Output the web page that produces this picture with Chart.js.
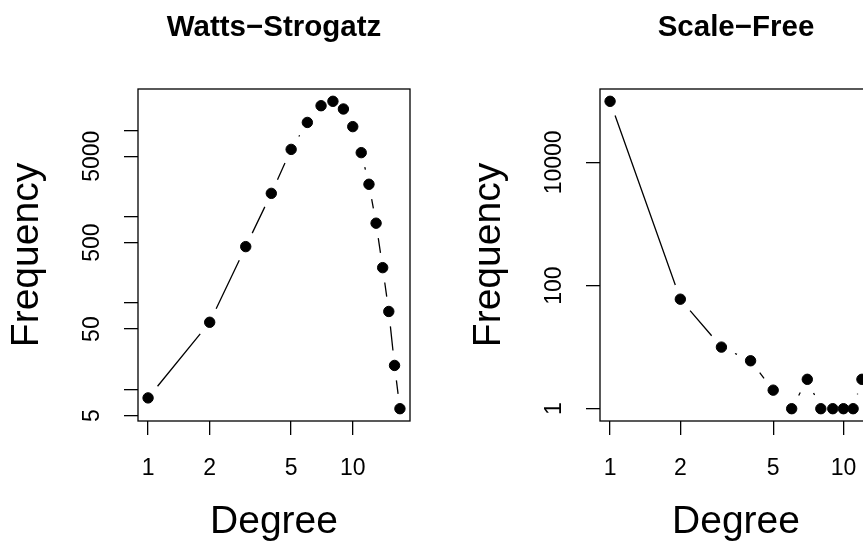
<!DOCTYPE html>
<html lang="en">
<head>
<meta charset="UTF-8" />
<title>Degree distributions</title>
<script src="https://cdn.jsdelivr.net/npm/chart.js"></script>
<style>
  html, body { margin: 0; padding: 0; background: #fff; }
  body { width: 863px; height: 543px; overflow: hidden; position: relative; }
  canvas { position: absolute; top: 0; }
</style>
</head>
<body>
<canvas id="ws" width="432" height="543" style="left:0"></canvas>
<canvas id="sf" width="432" height="543" style="left:462px"></canvas>
<script>
// Watts-Strogatz degree distribution
const wsDegree = [1, 2, 3, 4, 5, 6, 7, 8, 9, 10, 11, 12, 13, 14, 15, 16, 17];
const wsFreq = [8, 60, 450, 1860, 6000, 12300, 19200, 21600, 17600, 11000, 5500, 2370, 840, 257, 80, 19, 6];
const wsXTicks = [1, 2, 5, 10];
const wsYTicks = [5, 10, 50, 100, 500, 1000, 5000, 10000];
const wsYLabels = [5, 50, 500, 5000];

// Scale-free degree distribution
const sfDegree = [1, 2, 3, 4, 5, 6, 7, 8, 9, 10, 11, 12];
const sfFreq = [98000, 60, 10, 6, 2, 1, 3, 1, 1, 1, 1, 3];
const sfXTicks = [1, 2, 5, 10];
const sfYTicks = [1, 100, 10000];
const sfYLabels = [1, 100, 10000];

const FONT = "'Liberation Sans', Arial, Helvetica, sans-serif";
Chart.defaults.font.family = FONT;
Chart.defaults.color = '#000';

// R pads log axes by 4% of the data range on each side
function logLimits(vals) {
  const lo = Math.log10(Math.min(...vals)), hi = Math.log10(Math.max(...vals));
  const pad = (hi - lo) * 0.04;
  return [Math.pow(10, lo - pad), Math.pow(10, hi + pad)];
}

function textWidth(s, px) {
  const c = document.createElement('canvas').getContext('2d');
  c.font = px + 'px ' + FONT;
  return c.measureText(s).width;
}

// type="b": segments stop short of each point
const gapLines = {
  id: 'gapLines',
  beforeDatasetsDraw(chart) {
    const pts = chart.getDatasetMeta(0).data;
    const ctx = chart.ctx, gap = 15;
    ctx.save();
    ctx.strokeStyle = '#000';
    ctx.lineWidth = 1.3;
    ctx.beginPath();
    for (let i = 1; i < pts.length; i++) {
      const a = pts[i - 1], b = pts[i];
      const dx = b.x - a.x, dy = b.y - a.y, d = Math.hypot(dx, dy);
      if (d <= 2 * gap) continue;
      const ux = dx / d, uy = dy / d;
      ctx.moveTo(a.x + ux * gap, a.y + uy * gap);
      ctx.lineTo(b.x - ux * gap, b.y - uy * gap);
    }
    ctx.stroke();
    ctx.restore();
  }
};

// box() around the plot region
const frame = {
  id: 'frame',
  afterDraw(chart) {
    const { left, top, width, height } = chart.chartArea;
    const ctx = chart.ctx;
    ctx.save();
    ctx.strokeStyle = '#000';
    ctx.lineWidth = 1.3;
    ctx.strokeRect(left, top, width, height);
    ctx.restore();
  }
};

function makeChart(id, title, xs, ys, xTicks, yTicks, yLabels) {
  const [xMin, xMax] = logLimits(xs);
  const [yMin, yMax] = logLimits(ys);
  const widest = Math.max(...yLabels.map(v => textWidth(String(v), 23)));

  return new Chart(document.getElementById(id), {
    type: 'scatter',
    data: {
      datasets: [{
        data: xs.map((x, i) => ({ x: x, y: ys[i] })),
        showLine: false,
        pointRadius: 5.2,
        pointBorderWidth: 1,
        pointBackgroundColor: '#000',
        pointBorderColor: '#000'
      }]
    },
    options: {
      responsive: false,
      animation: false,
      layout: { padding: { top: 0, left: 0, right: 22, bottom: 0 } },
      plugins: {
        legend: { display: false },
        tooltip: { enabled: false },
        title: {
          display: true,
          text: title,
          fullSize: false,
          color: '#000',
          font: { size: 29.5, weight: 'bold' },
          padding: { top: 10.4, bottom: 43.2 }
        }
      },
      scales: {
        x: {
          type: 'logarithmic',
          min: xMin,
          max: xMax,
          bounds: 'data',
          afterBuildTicks: s => { s.ticks = xTicks.map(value => ({ value })); },
          afterFit: s => { s.height = 122; s.paddingLeft = 0; s.paddingRight = 0; },
          grid: { drawOnChartArea: false, tickLength: 14, color: '#000', lineWidth: 1.3 },
          border: { display: false },
          ticks: {
            autoSkip: false,
            maxRotation: 0,
            padding: 20,
            font: { size: 23 },
            callback: v => String(v)
          },
          title: {
            display: true,
            text: 'Degree',
            font: { size: 39, lineHeight: 1 },
            padding: { top: 0, bottom: 1.5 }
          }
        },
        y: {
          type: 'logarithmic',
          min: yMin,
          max: yMax,
          bounds: 'data',
          afterBuildTicks: s => { s.ticks = yTicks.map(value => ({ value })); },
          afterFit: s => { s.width = 138; s.paddingTop = 0; s.paddingBottom = 0; },
          grid: { drawOnChartArea: false, tickLength: 14, color: '#000', lineWidth: 1.3 },
          border: { display: false },
          ticks: {
            autoSkip: false,
            minRotation: 90,
            maxRotation: 90,
            crossAlign: 'center',
            padding: 31.5 - widest / 2,
            font: { size: 23 },
            callback: v => yLabels.includes(v) ? String(v) : ''
          },
          title: {
            display: true,
            text: 'Frequency',
            font: { size: 39, lineHeight: 1 },
            padding: { top: 8, bottom: 0 }
          }
        }
      }
    },
    plugins: [gapLines, frame]
  });
}

makeChart('ws', 'Watts\u2212Strogatz', wsDegree, wsFreq, wsXTicks, wsYTicks, wsYLabels);
makeChart('sf', 'Scale\u2212Free', sfDegree, sfFreq, sfXTicks, sfYTicks, sfYLabels);
</script>
</body>
</html>
